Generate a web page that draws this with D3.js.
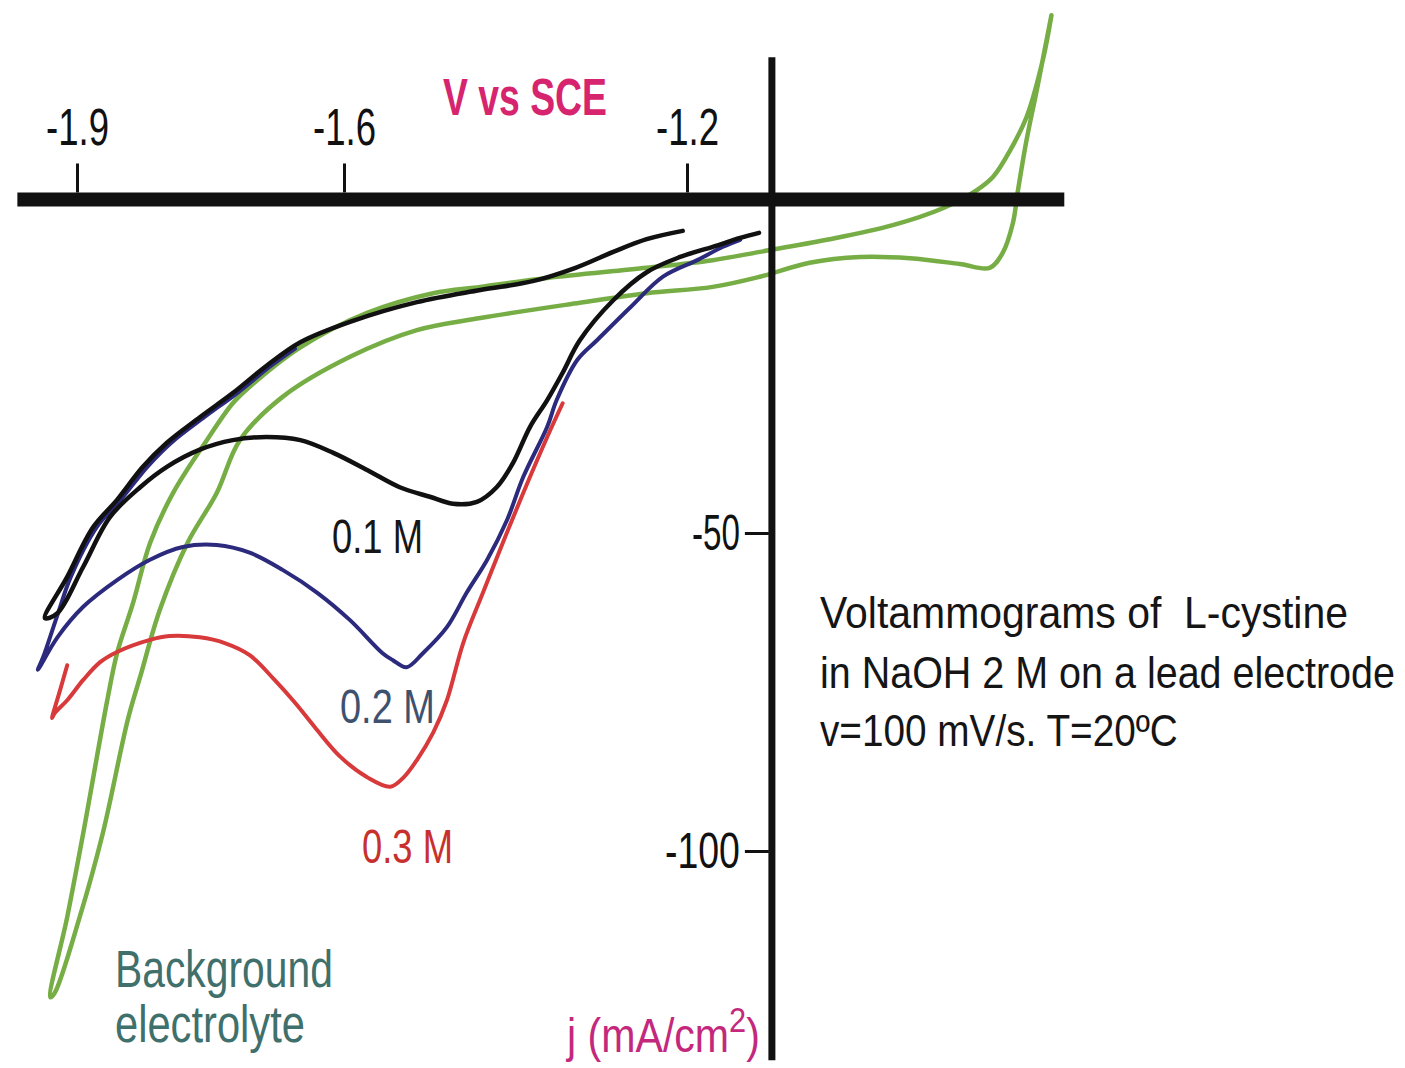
<!DOCTYPE html>
<html>
<head>
<meta charset="utf-8">
<script src="https://cdn.jsdelivr.net/npm/d3@7"></script>
<style>
  body { margin: 0; background: #fff; }
  text { font-family: "Liberation Sans", Arial, sans-serif; }
</style>
</head>
<body>
<div class="chart"></div>
<script>
// tick values
var xTicks = [-1.9, -1.6, -1.2];
var yTicks = [-50, -100];

// axis placement, in data units (V and mA/cm2)
var xAxisAtJ = 2.44;
var yAxisAtV = -1.101;
var xAxisSpan = [-1.967, -0.760];
var yAxisSpan = [24.8, -132.9];

// [E (V vs SCE), j (mA/cm2)] along each sweep
var bg = [
  [-0.775, 31.4], [-0.783, 25.9], [-0.792, 19.7], [-0.804, 11.8], [-0.814, 3.9],
  [-0.820, -1.3], [-0.832, -6.0], [-0.847, -8.3], [-0.882, -7.7], [-0.940, -6.8],
  [-0.998, -6.6], [-1.057, -7.5], [-1.115, -9.7], [-1.170, -11.3], [-1.247, -12.3],
  [-1.325, -13.8], [-1.441, -16.2], [-1.515, -18.1], [-1.593, -22.3], [-1.669, -28.6],
  [-1.717, -35.4], [-1.743, -43.7], [-1.776, -51.6], [-1.807, -62.1], [-1.829, -72.6],
  [-1.843, -79.4], [-1.871, -97.2], [-1.897, -110.4], [-1.925, -122.3], [-1.930, -123.0],
  [-1.911, -110.4], [-1.893, -97.2], [-1.866, -76.3], [-1.855, -68.9], [-1.837, -61.0],
  [-1.818, -51.6], [-1.792, -43.7], [-1.756, -35.8], [-1.725, -29.6], [-1.706, -27.0],
  [-1.649, -20.8], [-1.573, -15.4], [-1.496, -12.3], [-1.441, -11.3], [-1.363, -9.9],
  [-1.247, -8.3], [-1.170, -7.1], [-1.115, -5.8], [-1.037, -3.9], [-0.960, -1.6],
  [-0.901, 1.1], [-0.862, 3.9], [-0.843, 6.0], [-0.823, 10.2], [-0.804, 15.4],
  [-0.785, 24.4], [-0.775, 31.4]
];

var c01 = [
  [-1.116, -2.8], [-1.138, -3.6], [-1.170, -5.0], [-1.208, -6.6], [-1.247, -9.0],
  [-1.286, -13.4], [-1.325, -19.7], [-1.345, -24.8], [-1.363, -29.1], [-1.383, -33.3],
  [-1.403, -39.0], [-1.422, -42.8], [-1.445, -45.1], [-1.473, -45.4], [-1.500, -44.3],
  [-1.535, -42.8], [-1.573, -40.1], [-1.612, -37.4], [-1.649, -35.4], [-1.687, -34.9],
  [-1.725, -35.4], [-1.762, -36.9], [-1.799, -39.6], [-1.829, -42.8], [-1.863, -47.5],
  [-1.893, -55.3], [-1.922, -62.6], [-1.936, -63.4],
  [-1.911, -56.9], [-1.882, -49.1], [-1.855, -44.8], [-1.826, -39.6], [-1.799, -35.8],
  [-1.762, -31.8], [-1.725, -28.0], [-1.687, -23.7], [-1.649, -20.0], [-1.593, -16.8],
  [-1.515, -13.7], [-1.441, -11.8], [-1.380, -10.4], [-1.330, -8.3], [-1.286, -5.8],
  [-1.247, -3.8], [-1.205, -2.5]
];

var c02 = [
  [-1.138, -3.9], [-1.158, -5.0], [-1.188, -7.1], [-1.228, -9.7], [-1.266, -14.5],
  [-1.305, -19.7], [-1.328, -22.8], [-1.352, -29.1], [-1.363, -33.3], [-1.391, -41.2],
  [-1.410, -48.0], [-1.433, -54.2], [-1.457, -59.4], [-1.480, -64.8], [-1.508, -68.9],
  [-1.527, -71.1], [-1.543, -70.0], [-1.555, -68.9], [-1.593, -63.7], [-1.630, -59.4],
  [-1.669, -55.8], [-1.706, -53.1], [-1.743, -51.9], [-1.781, -52.2], [-1.818, -54.2],
  [-1.855, -57.4], [-1.893, -61.6], [-1.922, -66.4], [-1.942, -71.1], [-1.944, -71.5],
  [-1.938, -69.5], [-1.922, -62.9], [-1.907, -56.9], [-1.878, -49.1], [-1.851, -44.8],
  [-1.821, -39.6], [-1.794, -35.8], [-1.757, -31.8], [-1.720, -28.0], [-1.682, -23.7],
  [-1.655, -21.0]
];

var c03 = [
  [-1.345, -29.6], [-1.363, -34.9], [-1.391, -43.7], [-1.415, -51.6], [-1.438, -59.4],
  [-1.461, -67.3], [-1.480, -76.3], [-1.496, -81.4], [-1.515, -85.7], [-1.531, -88.5],
  [-1.546, -89.9], [-1.573, -88.4], [-1.604, -85.2], [-1.633, -80.5], [-1.655, -76.7],
  [-1.678, -73.1], [-1.706, -69.2], [-1.734, -67.3], [-1.762, -66.4], [-1.796, -66.2],
  [-1.818, -66.8], [-1.855, -68.7], [-1.874, -70.3], [-1.893, -73.1], [-1.911, -76.3],
  [-1.925, -78.3], [-1.928, -79.1], [-1.919, -74.7], [-1.911, -70.8]
];

var series = [
  { name: "background", pts: bg, color: "#76ad45", width: 4.5 },
  { name: "0.3 M", pts: c03, color: "#d8393b", width: 4 },
  { name: "0.2 M", pts: c02, color: "#2b2a7c", width: 4 },
  { name: "0.1 M", pts: c01, color: "#111111", width: 4.5 }
];

var svgWidth = 1405;
var svgHeight = 1068;

var svg = d3.select(".chart").append("svg")
  .attr("width", svgWidth)
  .attr("height", svgHeight);

// tick spacing on the original is slightly uneven, so use a polylinear scale
var x = d3.scaleLinear().domain(xTicks).range([77, 344, 687]);
var y = d3.scaleLinear().domain(yTicks).range([533, 851]);

var line = d3.line()
  .x(function(d) { return x(d[0]); })
  .y(function(d) { return y(d[1]); })
  .curve(d3.curveCatmullRom.alpha(0.5));

svg.selectAll("path.cv")
  .data(series)
  .enter().append("path")
  .attr("class", "cv")
  .attr("d", function(s) { return line(s.pts); })
  .attr("fill", "none")
  .attr("stroke", function(s) { return s.color; })
  .attr("stroke-width", function(s) { return s.width; })
  .attr("stroke-linejoin", "round")
  .attr("stroke-linecap", "round");

// thick axis lines
var x0 = y(xAxisAtJ);
var y0 = x(yAxisAtV);
svg.append("line")
  .attr("x1", x(xAxisSpan[0])).attr("x2", x(xAxisSpan[1]))
  .attr("y1", x0).attr("y2", x0)
  .attr("stroke", "#111").attr("stroke-width", 14);
svg.append("line")
  .attr("x1", y0).attr("x2", y0)
  .attr("y1", y(yAxisSpan[0])).attr("y2", y(yAxisSpan[1]))
  .attr("stroke", "#111").attr("stroke-width", 7);

// squeeze a text horizontally to the width it has in the original
function squeeze(sel, w) {
  sel.each(function(d, i) {
    var el = d3.select(this);
    var target = typeof w === "function" ? w(d, i) : w;
    var natural = this.getComputedTextLength();
    var k = target / natural;
    var tx = +el.attr("x") || 0;
    el.attr("transform", "translate(" + tx + ",0) scale(" + k + ",1) translate(" + (-tx) + ",0)");
  });
}

// top axis ticks
var xAxis = svg.append("g")
  .attr("transform", "translate(0," + (x0 - 7) + ")")
  .call(d3.axisTop(x).tickValues(xTicks).tickSize(29).tickPadding(18));
xAxis.select(".domain").remove();
xAxis.selectAll(".tick line").attr("stroke", "#111").attr("stroke-width", 3);
xAxis.selectAll(".tick text")
  .attr("fill", "#111")
  .style("font-size", "52px")
  .text(function(d) { return d3.format(".1f")(d).replace("\u2212", "-"); })
  .call(squeeze, 63);

// left axis ticks
var yAxis = svg.append("g")
  .attr("transform", "translate(" + (y0 - 3) + ",0)")
  .call(d3.axisLeft(y).tickValues(yTicks).tickSize(24).tickPadding(5));
yAxis.select(".domain").remove();
yAxis.selectAll(".tick line").attr("stroke", "#111").attr("stroke-width", 3);
yAxis.selectAll(".tick text")
  .attr("fill", "#111")
  .style("font-size", "50px")
  .text(function(d) { return String(d); })
  .call(squeeze, function(d) { return d === -50 ? 48 : 75; });

// text labels: [text, x, y, size, squeezed width, colour, weight]
var labels = [
  ["V vs SCE", 443, 115, 51, 164, "#d6246e", "bold"],
  ["0.1 M", 332, 553, 49, 91, "#161616", "normal"],
  ["0.2 M", 340, 723, 49, 95, "#3e5270", "normal"],
  ["0.3 M", 362, 863, 49, 91, "#c8302e", "normal"],
  ["Background", 115, 987, 51, 218, "#3f706b", "normal"],
  ["electrolyte", 115, 1042, 51, 190, "#3f706b", "normal"],
  ["Voltammograms of  L-cystine", 820, 628, 44, 528, "#151515", "normal"],
  ["in NaOH 2 M on a lead electrode", 820, 688, 44, 575, "#151515", "normal"],
  ["v=100 mV/s. T=20\u00baC", 820, 746, 44, 358, "#151515", "normal"]
];

svg.selectAll("text.lbl")
  .data(labels)
  .enter().append("text")
  .attr("class", "lbl")
  .attr("x", function(d) { return d[1]; })
  .attr("y", function(d) { return d[2]; })
  .style("white-space", "pre")
  .style("font-size", function(d) { return d[3] + "px"; })
  .style("font-weight", function(d) { return d[6]; })
  .attr("fill", function(d) { return d[5]; })
  .text(function(d) { return d[0]; })
  .call(squeeze, function(d) { return d[4]; });

// current density label with superscript
var jLab = svg.append("text")
  .attr("x", 567).attr("y", 1052)
  .style("font-size", "48px")
  .attr("fill", "#c4287c");
jLab.append("tspan").text("j (mA/cm");
jLab.append("tspan").attr("dy", -20).style("font-size", "36px").text("2");
jLab.append("tspan").attr("dy", 20).text(")");
jLab.call(squeeze, 193);
</script>
</body>
</html>
